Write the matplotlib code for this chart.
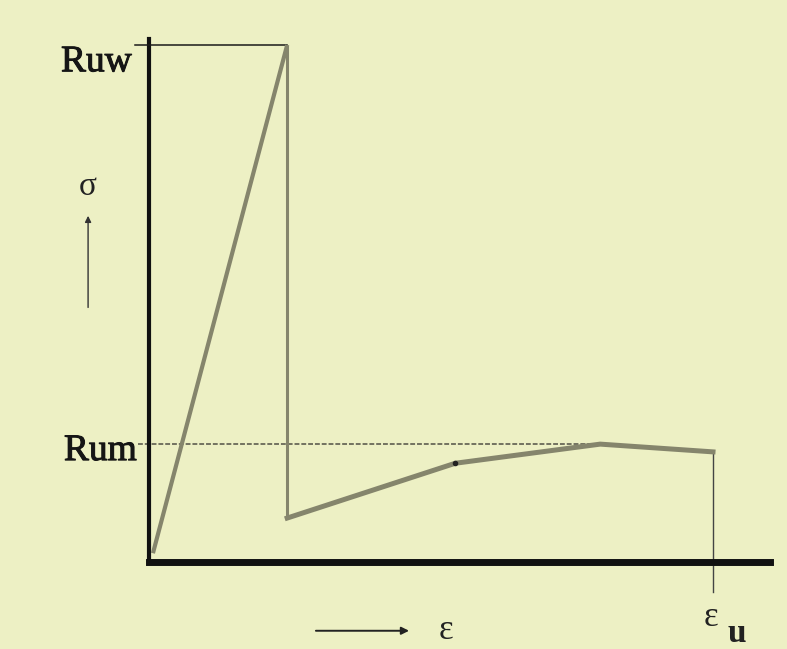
"""
Schematic stress-strain curve: peak Ruw, drop, re-rise to Rum, failure at eps_u.
"""

import matplotlib.pyplot as plt
import matplotlib.patheffects as pe

# ── Data (schematic units: stress in % of Ruw, strain arbitrary) ─────
strain_rise = [0.07, 2.45]
stress_rise = [1.7, 100.0]

strain_drop = [2.45, 2.45]
stress_drop = [100.0, 8.5]

strain_post = [2.45, 5.43, 8.0, 10.0]
stress_post = [8.5, 19.1, 22.8, 21.3]

Ruw = 100.0
Rum = 22.8
eps_u = 10.0

# ── Style ────────────────────────────────────────────────────────────
BG = "#EDF0C4"
CURVE = "#85856c"
INK = "#151515"
plt.rcParams.update({
    "font.family": ["Liberation Serif", "DejaVu Serif"],
})
heavy = [pe.withStroke(linewidth=0.7, foreground=INK)]

W, H = 787, 649
fig = plt.figure(figsize=(W / 100, H / 100), dpi=100, facecolor=BG)
# axes box: origin at px (149, 562), top at y=39, right end at x=770
ax = fig.add_axes([149 / W, (H - 562) / H, (770 - 149) / W, (562 - 39) / H])
ax.set_facecolor(BG)
ax.set_xlim(0, 621 / 56.4)
ax.set_ylim(0, 523 / 5.17)

for side in ("top", "right"):
    ax.spines[side].set_visible(False)
ax.spines["left"].set_linewidth(3.0)
ax.spines["bottom"].set_linewidth(5.0)
ax.spines["left"].set_color("#111111")
ax.spines["bottom"].set_color("#111111")
ax.set_xticks([])
ax.set_yticks([])

# reference lines
ax.plot([-0.25, strain_rise[1]], [Ruw, Ruw], color="#1a1a1a", lw=1.1,
        clip_on=False, zorder=3)
ax.plot([-0.2, strain_post[2]], [Rum, Rum], color="#727260", lw=1.4,
        ls=(0, (2.5, 1.0)), clip_on=False, zorder=2)
ax.plot([eps_u, eps_u], [stress_post[-1], -5.8], color="#444444", lw=1.0,
        clip_on=False, zorder=2)

# curve
ax.plot(strain_rise, stress_rise, color=CURVE, lw=3.0,
        solid_capstyle="butt", zorder=4)
ax.plot(strain_drop, stress_drop, color=CURVE, lw=2.2,
        solid_capstyle="butt", zorder=4)
ax.plot(strain_post, stress_post, color=CURVE, lw=3.6,
        solid_joinstyle="miter", zorder=4)
ax.plot(strain_post[1], stress_post[1], "o", color="#222222", ms=3, zorder=5)

# labels
ax.text(-0.30, 96.7, "Ruw", ha="right", va="center", fontsize=27,
        color=INK, clip_on=False, path_effects=heavy)
ax.text(-0.21, 21.5, "Rum", ha="right", va="center", fontsize=27,
        color=INK, clip_on=False, path_effects=heavy)
ax.text(-1.08, 72.6, "σ", ha="center", va="center", fontsize=24,
        color="#222222", clip_on=False)
ax.annotate("", xy=(-1.08, 67.5), xytext=(-1.08, 48.7),
            arrowprops=dict(arrowstyle="-|>", color="#333333", lw=1.0,
                            mutation_scale=9),
            annotation_clip=False)
ax.annotate("", xy=(4.66, -13.3), xytext=(2.91, -13.3),
            arrowprops=dict(arrowstyle="-|>", color="#222222", lw=1.4,
                            mutation_scale=11),
            annotation_clip=False)
ax.text(5.27, -13.3, "ε", ha="center", va="center", fontsize=25,
        color="#222222", clip_on=False)
ax.text(9.97, -10.8, "ε", ha="center", va="center", fontsize=25,
        color="#222222", clip_on=False)
ax.text(10.42, -13.9, "u", ha="center", va="center", fontsize=24,
        fontweight="bold", color="#222222", clip_on=False)

fig.savefig("out.png", dpi=100, facecolor=BG)
plt.close(fig)
